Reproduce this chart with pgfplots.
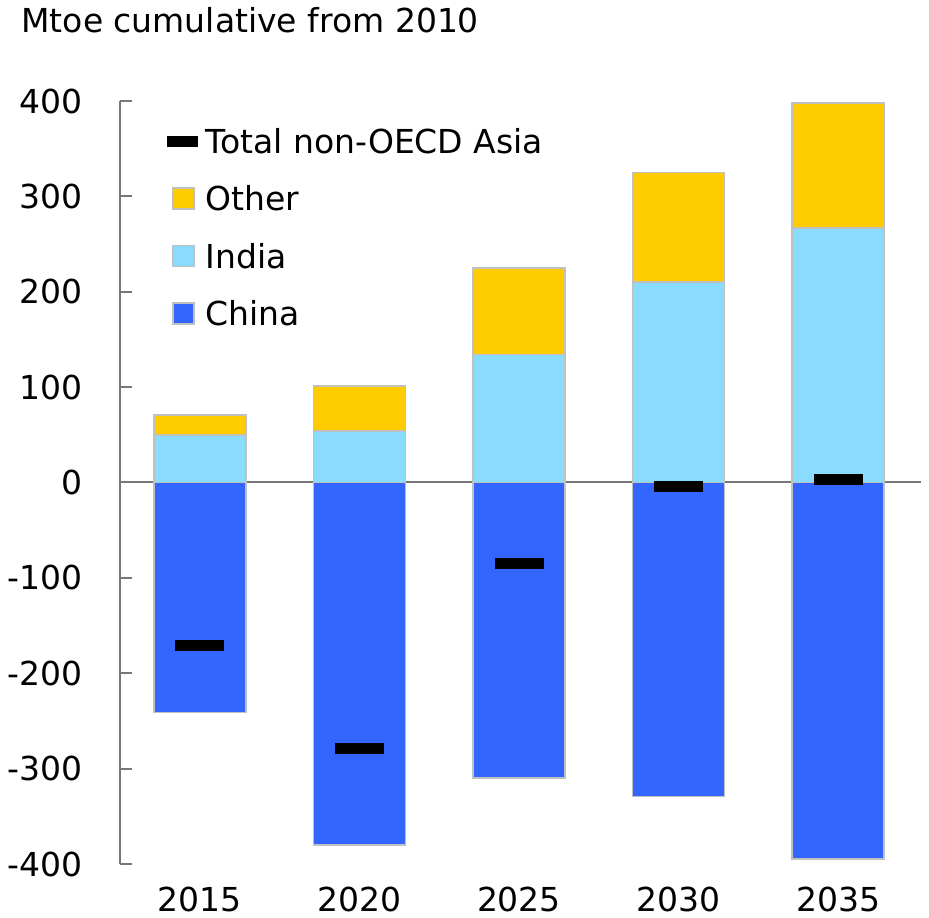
\documentclass[border=0pt]{standalone}
\usepackage{fontspec}
\setmainfont{DejaVu Sans}
\usepackage{pgfplots}
\pgfplotsset{compat=1.18}
\usetikzlibrary{calc}
\definecolor{cChina}{HTML}{3366FF}
\definecolor{cIndia}{HTML}{8ADCFF}
\definecolor{cOther}{HTML}{FFCC00}
\definecolor{cBorder}{HTML}{C0C0C0}
\definecolor{cAxis}{HTML}{777777}
\begin{document}
\begin{tikzpicture}[font=\fontsize{16.5}{19.8}\selectfont]
\begin{axis}[
  scale only axis,
  width=399pt, height=381.5pt,
  xmin=-0.5, xmax=4.5,
  ymin=-400, ymax=400,
  ybar stacked, bar width=46pt,
  axis y line*=left,
  axis x line*=bottom,
  x axis line style={draw=none},
  y axis line style={draw=cAxis, line width=1pt},
  xtick={0,1,2,3,4},
  xticklabels={2015,2020,2025,2030,2035},
  x tick style={draw=none},
  ytick={-400,-300,-200,-100,0,100,200,300,400},
  yticklabels={-400,-300,-200,-100,0,100,200,300,400},
  y tick style={draw=cAxis, line width=1pt},
  tick align=inside,
  major tick length=6pt,
  tick label style={font=\fontsize{16.5}{19.8}\selectfont},
  yticklabel style={inner sep=0pt, xshift=-18.5pt},
  xticklabel style={inner sep=0pt, yshift=-11.5pt},
  legend cell align=left,
  legend style={at={(0.0589,0.9633)}, anchor=north west, draw=none, fill=none,
    inner sep=0pt, row sep=16.67pt,
    nodes={inner xsep=3.75pt, inner ysep=0pt, text height=12pt, text depth=0pt, font=\fontsize{16.5}{19.8}\selectfont}},
  clip=false,
]
\addlegendimage{legend image code/.code={\fill[black] (-2.5pt,-2.5pt) rectangle (12.5pt,2.5pt);}}
\addlegendentry{Total non-OECD Asia}
\addlegendimage{legend image code/.code={\filldraw[fill=cOther, draw=cBorder, line width=0.75pt] (0pt,-5.25pt) rectangle (10.5pt,5.25pt);}}
\addlegendentry{Other}
\addlegendimage{legend image code/.code={\filldraw[fill=cIndia, draw=cBorder, line width=0.75pt] (0pt,-5.25pt) rectangle (10.5pt,5.25pt);}}
\addlegendentry{India}
\addlegendimage{legend image code/.code={\filldraw[fill=cChina, draw=cBorder, line width=0.75pt] (0pt,-5.25pt) rectangle (10.5pt,5.25pt);}}
\addlegendentry{China}

% India (stacked, from 0)
\addplot[fill=cIndia, draw=cBorder, line width=0.75pt, forget plot] coordinates {(0,50) (1,54) (2,134) (3,210) (4,267)};
% Other (stacked on India)
\addplot[fill=cOther, draw=cBorder, line width=0.75pt, forget plot] coordinates {(0,21) (1,47) (2,91) (3,115) (4,131)};
% China (negative, not stacked)
\addplot[stack plots=false, fill=cChina, draw=cBorder, line width=0.75pt, forget plot] coordinates {(0,-241) (1,-380) (2,-310) (3,-329) (4,-395)};
\draw[cAxis, line width=1pt] (axis cs:-0.5,0) -- (axis cs:4.52,0);
% Total non-OECD Asia
\addplot[stack plots=false, only marks, mark=-, mark size=12.25pt, mark options={line width=5.5pt, draw=black}, forget plot] coordinates {(0,-171) (1,-279) (2,-85) (3,-4) (4,3)};
\coordinate (SW) at (rel axis cs:0,0);
\coordinate (NE) at (rel axis cs:1,1);
\end{axis}
\node[anchor=base west, inner sep=0pt] at ($(SW|-NE)+(-49.5pt,34pt)$) {Mtoe cumulative from 2010};
\pgfresetboundingbox
\path ($(SW)+(-60pt,-27pt)$) rectangle ($(NE)+(5.5pt,50.5pt)$);
\end{tikzpicture}
\end{document}
